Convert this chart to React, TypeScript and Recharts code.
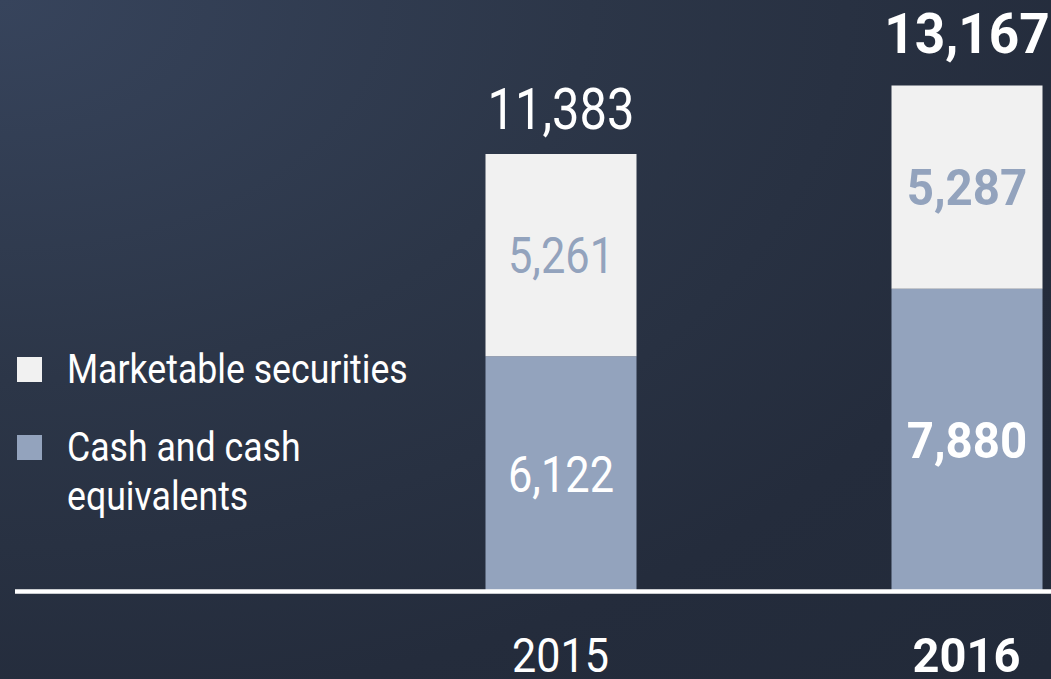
import React from 'react';
import { BarChart, Bar, XAxis, YAxis, Legend, LabelList } from 'recharts';

const years = ['2015', '2016'];
const cashValues = [6122, 7880];
const securitiesValues = [5261, 5287];
const totalValues = [11383, 13167];
const seriesNames = ['Cash and cash equivalents', 'Marketable securities'];

const CASH_COLOR = '#93a3bd';
const SEC_COLOR = '#f1f1f1';
const FONT = 'Roboto, "Liberation Sans", sans-serif';

// styling per category (2015 regular, 2016 bold)
const weights = ['400', '700'];
const totalFont = [57.5, 56];
const totalScale = [0.85, 0.95];
const totalGap = [25, 32];
const innerFont = [50.5, 50];
const innerScale = [0.86, 0.95];
const yearFont = [49, 49];
const yearScale = [0.88, 0.96];

const data = years.map((y, i) => ({
  year: Number(y),
  label: y,
  cash: cashValues[i],
  securities: securitiesValues[i],
  total: totalValues[i],
}));

const fmt = (v: number) => v.toLocaleString('en-US');

const ScaledText = ({ cx, baseline, sx, size, weight, fill, children }: any) => (
  <text
    transform={`translate(${cx},${baseline}) scale(${sx},1)`}
    x={0}
    y={0}
    textAnchor="middle"
    fontFamily={FONT}
    fontSize={size}
    fontWeight={weight}
    fill={fill}
  >
    {children}
  </text>
);

const makeInnerLabel = (color: string) => (props: any) => {
  const { x, y, width, height, index, value } = props;
  const size = innerFont[index];
  const cx = Number(x) + Number(width) / 2;
  const baseline = Number(y) + Number(height) / 2 + size * 0.711 / 2;
  return (
    <ScaledText cx={cx} baseline={baseline} sx={innerScale[index]} size={size} weight={weights[index]} fill={color}>
      {fmt(Number(value))}
    </ScaledText>
  );
};

const TotalLabel = (props: any) => {
  const { x, y, width, index, value } = props;
  const cx = Number(x) + Number(width) / 2;
  const baseline = Number(y) - totalGap[index];
  return (
    <ScaledText cx={cx} baseline={baseline} sx={totalScale[index]} size={totalFont[index]} weight={weights[index]} fill="#ffffff">
      {fmt(Number(value))}
    </ScaledText>
  );
};

const YearTick = (props: any) => {
  const { x, y, payload, index } = props;
  const i = years.indexOf(String(payload.value));
  const k = i >= 0 ? i : index;
  return (
    <ScaledText cx={x} baseline={Number(y) + 80.5} sx={yearScale[k]} size={yearFont[k]} weight={weights[k]} fill="#ffffff">
      {String(payload.value)}
    </ScaledText>
  );
};

const legendTextLines: Record<string, string[]> = {
  'Marketable securities': ['Marketable securities'],
  'Cash and cash equivalents': ['Cash and cash', 'equivalents'],
};

const LegendContent = (props: any) => {
  const payload = [...(props.payload || [])].reverse();
  const rowTops = [27, 105];
  return (
    <svg width={420} height={200} style={{ display: 'block' }}>
      {payload.map((p: any, i: number) => {
        const top = rowTops[i];
        const lines = legendTextLines[p.value] || [p.value];
        return (
          <g key={p.value}>
            <rect x={17} y={top} width={25} height={25} fill={p.color} />
            {lines.map((ln: string, j: number) => (
              <text
                key={ln}
                transform={`translate(67,${top + 26 + j * 49}) scale(0.87,1)`}
                x={0}
                y={0}
                fontFamily={FONT}
                fontSize={41}
                fill="#ffffff"
              >
                {ln}
              </text>
            ))}
          </g>
        );
      })}
    </svg>
  );
};

export default function App() {
  const plotLeft = 15;
  const pxPerYear = 406;
  const domainMin = 2015 - (560.5 - plotLeft) / pxPerYear;
  const domainMax = 2016 + (1051 - 966.5) / pxPerYear;
  return (
    <div
      style={{
        position: 'absolute',
        left: 0,
        top: 0,
        width: 1051,
        height: 679,
        overflow: 'hidden',
        background:
          'radial-gradient(ellipse 140% 140% at 0% 0%, #37445c 0%, #2c3648 40%, #242c3c 75%, #222a39 100%)',
      }}
    >
      <BarChart
        width={1051}
        height={679}
        data={data}
        margin={{ top: 15, right: 0, bottom: 0, left: plotLeft }}
      >
        <XAxis
          type="number"
          dataKey="year"
          domain={[domainMin, domainMax]}
          ticks={[2015, 2016]}
          allowDataOverflow
          height={87.5}
          axisLine={{ stroke: '#ffffff', strokeWidth: 4.5 }}
          tickLine={false}
          tickSize={0}
          tickMargin={0}
          tick={<YearTick />}
          interval={0}
        />
        <YAxis hide domain={[0, 15000]} allowDataOverflow />
        <Legend
          layout="vertical"
          align="center"
          verticalAlign="middle"
          content={<LegendContent />}
          wrapperStyle={{ position: 'absolute', left: 0, top: 330, width: 420, height: 200 }}
        />
        <Bar
          dataKey="cash"
          name={seriesNames[0]}
          stackId="a"
          fill={CASH_COLOR}
          barSize={151}
          isAnimationActive={false}
        >
          <LabelList dataKey="cash" content={makeInnerLabel('#ffffff')} />
        </Bar>
        <Bar
          dataKey="securities"
          name={seriesNames[1]}
          stackId="a"
          fill={SEC_COLOR}
          barSize={151}
          isAnimationActive={false}
        >
          <LabelList dataKey="securities" content={makeInnerLabel(CASH_COLOR)} />
          <LabelList dataKey="total" content={<TotalLabel />} />
        </Bar>
      </BarChart>
    </div>
  );
}
